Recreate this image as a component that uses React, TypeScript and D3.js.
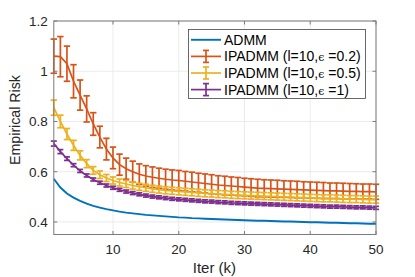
import React, { useEffect, useRef } from 'react';
import * as d3 from 'd3';

// iteration index k
const iters = d3.range(1, 51);

const admm = [
  0.572, 0.537, 0.513, 0.497, 0.484, 0.473, 0.464, 0.457, 0.451, 0.446,
  0.441, 0.437, 0.434, 0.431, 0.428, 0.426, 0.424, 0.422, 0.420, 0.418,
  0.417, 0.415, 0.414, 0.413, 0.412, 0.411, 0.410, 0.409, 0.408, 0.407,
  0.406, 0.405, 0.405, 0.404, 0.403, 0.402, 0.402, 0.401, 0.400, 0.399,
  0.399, 0.398, 0.397, 0.397, 0.396, 0.395, 0.395, 0.394, 0.393, 0.393,
];

const eps02 = [
  1.060, 1.058, 1.030, 0.960, 0.905, 0.850, 0.790, 0.738, 0.690, 0.655,
  0.628, 0.612, 0.600, 0.590, 0.583, 0.578, 0.574, 0.570, 0.567, 0.565,
  0.562, 0.559, 0.556, 0.553, 0.550, 0.547, 0.545, 0.543, 0.541, 0.539,
  0.537, 0.535, 0.534, 0.533, 0.532, 0.531, 0.530, 0.529, 0.528, 0.527,
  0.526, 0.525, 0.524, 0.524, 0.523, 0.522, 0.522, 0.521, 0.521, 0.520,
];
const eps02Err = [
  0.068, 0.080, 0.070, 0.066, 0.060, 0.052, 0.045, 0.043, 0.043, 0.043,
  0.042, 0.042, 0.042, 0.041, 0.041, 0.041, 0.040, 0.040, 0.040, 0.040,
  0.039, 0.039, 0.038, 0.038, 0.038, 0.037, 0.037, 0.036, 0.036, 0.035,
  0.035, 0.035, 0.034, 0.034, 0.034, 0.033, 0.033, 0.033, 0.032, 0.032,
  0.032, 0.032, 0.031, 0.031, 0.031, 0.031, 0.030, 0.030, 0.030, 0.030,
];

const eps05 = [
  0.855, 0.800, 0.750, 0.705, 0.665, 0.632, 0.605, 0.588, 0.575, 0.565,
  0.557, 0.551, 0.545, 0.540, 0.536, 0.532, 0.529, 0.526, 0.524, 0.522,
  0.520, 0.518, 0.516, 0.514, 0.513, 0.511, 0.510, 0.508, 0.507, 0.506,
  0.505, 0.504, 0.503, 0.502, 0.501, 0.500, 0.499, 0.498, 0.497, 0.496,
  0.495, 0.494, 0.494, 0.493, 0.492, 0.491, 0.491, 0.490, 0.489, 0.489,
];
const eps05Err = [
  0.030, 0.025, 0.022, 0.020, 0.018, 0.016, 0.015, 0.015, 0.014, 0.014,
  0.014, 0.014, 0.014, 0.014, 0.014, 0.014, 0.014, 0.014, 0.014, 0.014,
  0.014, 0.014, 0.014, 0.014, 0.014, 0.014, 0.014, 0.014, 0.014, 0.014,
  0.014, 0.014, 0.014, 0.014, 0.014, 0.014, 0.014, 0.014, 0.014, 0.014,
  0.014, 0.014, 0.014, 0.014, 0.014, 0.014, 0.014, 0.014, 0.014, 0.014,
];

const eps1 = [
  0.712, 0.680, 0.652, 0.626, 0.603, 0.585, 0.569, 0.556, 0.545, 0.536,
  0.528, 0.521, 0.515, 0.510, 0.505, 0.501, 0.498, 0.495, 0.492, 0.490,
  0.488, 0.486, 0.484, 0.482, 0.481, 0.479, 0.478, 0.476, 0.475, 0.474,
  0.473, 0.472, 0.471, 0.470, 0.469, 0.468, 0.467, 0.466, 0.465, 0.464,
  0.463, 0.462, 0.461, 0.461, 0.460, 0.459, 0.458, 0.458, 0.457, 0.456,
];
const eps1Err = [
  0.010, 0.008, 0.007, 0.006, 0.006, 0.006, 0.006, 0.006, 0.006, 0.006,
  0.006, 0.006, 0.006, 0.006, 0.006, 0.006, 0.006, 0.006, 0.006, 0.006,
  0.006, 0.006, 0.006, 0.006, 0.006, 0.006, 0.006, 0.006, 0.006, 0.006,
  0.006, 0.006, 0.006, 0.006, 0.006, 0.006, 0.006, 0.006, 0.006, 0.006,
  0.006, 0.006, 0.006, 0.006, 0.006, 0.006, 0.006, 0.006, 0.006, 0.006,
];

const xTicks = [10, 20, 30, 40, 50];
const yTicks = [0.4, 0.6, 0.8, 1, 1.2];
const epsLabels = ['0.2', '0.5', '1'];

const App = () => {
  const svgRef = useRef<SVGSVGElement>(null);
  const width = 415, height = 277;
  const margin = { top: 21, right: 39, bottom: 42.5, left: 53.8 };

  useEffect(() => {
    const svg = d3.select(svgRef.current);
    svg.selectAll('*').remove();

    const x = d3.scaleLinear().domain([1, 50]).range([margin.left, width - margin.right]);
    const y = d3.scaleLinear().domain([0.35, 1.2]).range([height - margin.bottom, margin.top]);
    const [x0, x1] = x.range();
    const [y0, y1] = y.range();
    const font = 'Liberation Sans, Arial, Helvetica, sans-serif';

    svg.append('rect')
      .attr('x', x0).attr('y', y1)
      .attr('width', x1 - x0).attr('height', y0 - y1)
      .attr('fill', '#fff');

    // grid
    svg.selectAll('line.gx')
      .data(xTicks)
      .enter().append('line')
      .attr('x1', d => x(d)).attr('x2', d => x(d))
      .attr('y1', y0).attr('y2', y1)
      .attr('stroke', '#e6e6e6').attr('stroke-width', 0.8);
    svg.selectAll('line.gy')
      .data(yTicks)
      .enter().append('line')
      .attr('x1', x0).attr('x2', x1)
      .attr('y1', d => y(d)).attr('y2', d => y(d))
      .attr('stroke', '#e6e6e6').attr('stroke-width', 0.8);

    const series = [
      { mean: eps02, err: eps02Err, color: '#D95319', cap: 3.2, w: 1.7 },
      { mean: eps05, err: eps05Err, color: '#EDB120', cap: 3.2, w: 1.7 },
      { mean: eps1, err: eps1Err, color: '#7E2F8E', cap: 3, w: 1.7 },
    ];

    const line = d3.line<number>()
      .x((_, i) => x(iters[i]))
      .y(d => y(d));

    // ADMM
    svg.append('path')
      .attr('d', line(admm))
      .attr('fill', 'none')
      .attr('stroke', '#0072BD')
      .attr('stroke-width', 1.9);

    series.forEach(s => {
      const g = svg.append('g').attr('stroke', s.color).attr('stroke-width', s.w).attr('fill', 'none');
      g.append('path').attr('d', line(s.mean));
      iters.forEach((k, i) => {
        const cx = x(k);
        const top = y(s.mean[i] + s.err[i]);
        const bot = y(s.mean[i] - s.err[i]);
        g.append('line').attr('x1', cx).attr('x2', cx).attr('y1', top).attr('y2', bot);
        g.append('line').attr('x1', cx - s.cap).attr('x2', cx + s.cap).attr('y1', top).attr('y2', top);
        g.append('line').attr('x1', cx - s.cap).attr('x2', cx + s.cap).attr('y1', bot).attr('y2', bot);
      });
    });

    // axes box + inward ticks
    const axisColor = '#7a7a7a';
    svg.append('rect')
      .attr('x', x0).attr('y', y1)
      .attr('width', x1 - x0).attr('height', y0 - y1)
      .attr('fill', 'none').attr('stroke', axisColor).attr('stroke-width', 1);
    const tl = 3.5;
    xTicks.forEach(t => {
      svg.append('line').attr('x1', x(t)).attr('x2', x(t)).attr('y1', y0).attr('y2', y0 - tl).attr('stroke', axisColor);
      svg.append('line').attr('x1', x(t)).attr('x2', x(t)).attr('y1', y1).attr('y2', y1 + tl).attr('stroke', axisColor);
    });
    yTicks.forEach(t => {
      svg.append('line').attr('x1', x0).attr('x2', x0 + tl).attr('y1', y(t)).attr('y2', y(t)).attr('stroke', axisColor);
      svg.append('line').attr('x1', x1).attr('x2', x1 - tl).attr('y1', y(t)).attr('y2', y(t)).attr('stroke', axisColor);
    });

    svg.selectAll('text.xt')
      .data(xTicks)
      .enter().append('text')
      .attr('x', d => x(d))
      .attr('y', y0 + 19.5)
      .attr('text-anchor', 'middle')
      .attr('font-family', font).attr('font-size', 13.5)
      .attr('fill', '#262626')
      .text(d => d);
    svg.selectAll('text.yt')
      .data(yTicks)
      .enter().append('text')
      .attr('x', x0 - 6)
      .attr('y', d => y(d) + 4.8)
      .attr('text-anchor', 'end')
      .attr('font-family', font).attr('font-size', 13.5)
      .attr('fill', '#262626')
      .text(d => d);

    svg.append('text')
      .attr('x', (x0 + x1) / 2 - 0.5)
      .attr('y', 272.5)
      .attr('text-anchor', 'middle')
      .attr('font-family', font).attr('font-size', 15)
      .attr('fill', '#262626')
      .text('Iter (k)');
    svg.append('text')
      .attr('transform', `translate(19.5,120) rotate(-90)`)
      .attr('text-anchor', 'middle')
      .attr('font-family', font).attr('font-size', 14.2)
      .attr('fill', '#262626')
      .text('Empirical Risk');

    // legend
    const lg = svg.append('g');
    lg.append('rect')
      .attr('x', 188.5).attr('y', 29.5)
      .attr('width', 177).attr('height', 69)
      .attr('fill', '#fff').attr('stroke', '#444').attr('stroke-width', 0.8);
    const rowY = (i: number) => 39.8 + i * 16.6;
    const items = [{ color: '#0072BD', label: null as string | null }].concat(
      series.map((s, i) => ({ color: s.color, label: epsLabels[i] }))
    );
    items.forEach((it, i) => {
      const ry = rowY(i);
      lg.append('line')
        .attr('x1', 191).attr('x2', 221).attr('y1', ry).attr('y2', ry)
        .attr('stroke', it.color).attr('stroke-width', i === 0 ? 1.9 : 1.7);
      if (i > 0) {
        const cx = 206;
        lg.append('line').attr('x1', cx).attr('x2', cx).attr('y1', ry - 6).attr('y2', ry + 6)
          .attr('stroke', it.color).attr('stroke-width', 1.7);
        lg.append('line').attr('x1', cx - 3).attr('x2', cx + 3).attr('y1', ry - 6).attr('y2', ry - 6)
          .attr('stroke', it.color).attr('stroke-width', 1.7);
        lg.append('line').attr('x1', cx - 3).attr('x2', cx + 3).attr('y1', ry + 6).attr('y2', ry + 6)
          .attr('stroke', it.color).attr('stroke-width', 1.7);
      }
      const t = lg.append('text')
        .attr('x', 224).attr('y', ry + 5)
        .attr('font-family', font).attr('font-size', 14)
        .attr('fill', '#000');
      if (it.label === null) {
        t.text('ADMM');
      } else {
        t.append('tspan').text('IPADMM (l=10,');
        t.append('tspan').attr('font-size', 11).attr('font-family', 'DejaVu Serif, serif').text('ϵ');
        t.append('tspan').text(` =${it.label})`);
      }
    });
  }, []);

  return (
    <svg
      ref={svgRef}
      width={width}
      height={height}
      style={{ position: 'absolute', left: 0, top: 0, background: '#fff' }}
    />
  );
};

export default App;
